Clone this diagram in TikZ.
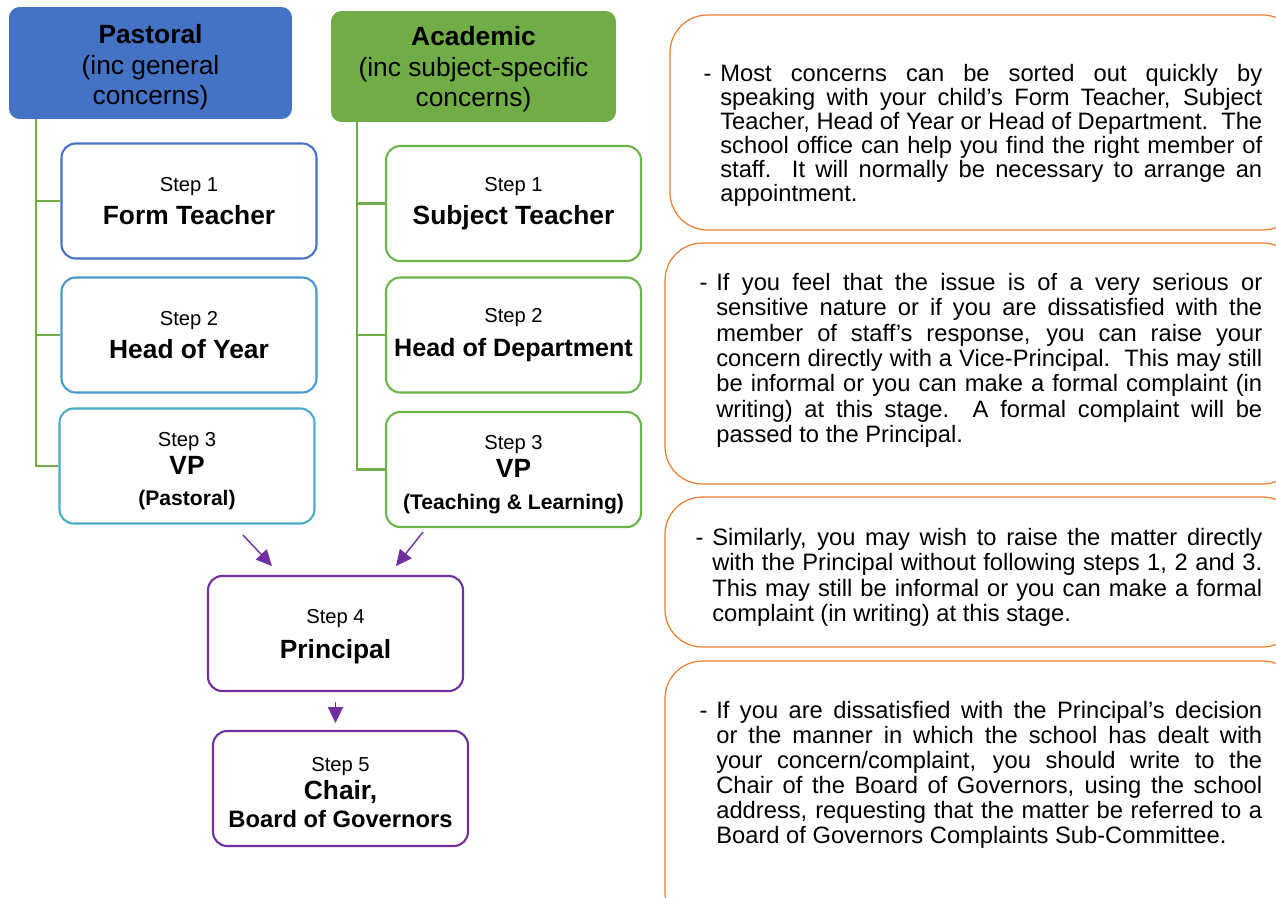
\documentclass[tikz,border=0pt]{standalone}
\usepackage{fontspec}
\setmainfont{Liberation Sans}
\usetikzlibrary{arrows.meta}

\definecolor{pastblue}{HTML}{4472C4}
\definecolor{acadgreen}{HTML}{70AD47}
\definecolor{yearblue}{HTML}{4A98CE}
\definecolor{vpcyan}{HTML}{4BACC6}
\definecolor{stepgreen}{HTML}{6AB44C}
\definecolor{boardpurple}{HTML}{7030A0}
\definecolor{noteorange}{HTML}{ED7D31}

\newcommand{\stepno}[1]{{\fontsize{11.5}{14}\selectfont #1}}
\newcommand{\stepname}[1]{{\fontsize{15}{18}\selectfont\bfseries #1}}
\newcommand{\stepsub}[1]{{\fontsize{12}{14}\selectfont\bfseries #1}}

\begin{document}
\begin{tikzpicture}[x=0.02cm, y=-0.02cm,
    header/.style={rounded corners=6pt, align=center, inner sep=0pt,
        font=\fontsize{15}{17.4}\selectfont},
    stepbox/.style={draw, line width=1.2pt, rounded corners=8pt, fill=white,
        align=center, inner sep=0pt, minimum width=5.1cm, minimum height=2.3cm,
        font=\fontsize{11.5}{15}\selectfont},
    branch/.style={acadgreen, line width=1.2pt},
    flow/.style={boardpurple, line width=0.8pt, -{Triangle[length=9pt, width=8.5pt]}},
    notebox/.style={noteorange, line width=0.7pt, rounded corners=0.75cm},
    note/.style={anchor=north west, inner sep=0pt, align=justify}]

    % page frame
    \clip (0,0) rectangle (1276,897);

    % Pastoral column
    \node[header, fill=pastblue, minimum width=5.66cm, minimum height=2.24cm] (pastoral) at (150.5,63)
        {\rule{0pt}{16pt}\textbf{Pastoral}\\(inc general\\concerns)};
    \node[stepbox, draw=pastblue] (form) at (189,201)
        {\stepno{Step 1}\\[4pt]\stepname{Form Teacher}};
    \node[stepbox, draw=yearblue] (year) at (189,335)
        {\stepno{Step 2}\\[4pt]\stepname{Head of Year}};
    \node[stepbox, draw=vpcyan] (pvp) at (187,466)
        {\rule{0pt}{14pt}\stepno{Step 3}\\[1pt]\stepname{VP}\\[3pt]\stepsub{(Pastoral)}};

    % Academic column
    \node[header, fill=acadgreen, minimum width=5.7cm, minimum height=2.22cm] (academic) at (473.5,66.5)
        {\rule{0pt}{14pt}\textbf{Academic}\\(inc subject-specific\\concerns)};
    \node[stepbox, draw=stepgreen] (subject) at (513.5,203.5)
        {\stepno{Step 1}\\[4pt]\stepname{Subject Teacher}};
    \node[stepbox, draw=stepgreen] (dept) at (513.5,335)
        {\stepno{Step 2}\\[4pt]{\fontsize{14.3}{18}\selectfont\bfseries Head of Department}};
    \node[stepbox, draw=stepgreen] (avp) at (513.5,469.5)
        {\rule{0pt}{14pt}\stepno{Step 3}\\[1pt]\stepname{VP}\\[3pt]\stepsub{(Teaching \& Learning)}};

    % tree lines
    \draw[branch] ([xshift=0.54cm]pastoral.south west) |- (form.west);
    \draw[branch] ([xshift=0.54cm]pastoral.south west) |- (year.west);
    \draw[branch] ([xshift=0.54cm]pastoral.south west) |- (pvp.west);
    \draw[branch] ([xshift=0.52cm]academic.south west) |- (subject.west);
    \draw[branch] ([xshift=0.52cm]academic.south west) |- (dept.west);
    \draw[branch] ([xshift=0.52cm]academic.south west) |- (avp.west);

    % Principal and Chair
    \node[stepbox, draw=boardpurple] (principal) at (335.5,633.5)
        {\rule{0pt}{12pt}\stepno{Step 4}\\[5pt]\stepname{Principal}};
    \node[stepbox, draw=boardpurple] (chair) at (340.5,788.5)
        {\rule{0pt}{13pt}\stepno{Step 5}\\[1pt]\stepname{Chair,}\\[1pt]{\fontsize{13.5}{15}\selectfont\bfseries Board of Governors}};

    \coordinate (pvpout) at (243,535);
    \coordinate (pvpin) at (272,566);
    \coordinate (avpout) at (423,532);
    \coordinate (avpin) at (396,566);
    \coordinate (principalout) at (335.5,702);
    \coordinate (chairin) at (335.5,723);
    \draw[flow] (pvpout) -- (pvpin);
    \draw[flow] (avpout) -- (avpin);
    \draw[flow] (principalout) -- (chairin);

    % notes on the right
    \draw[notebox] (670,15) rectangle (1300,230);
    \draw[notebox] (665,243) rectangle (1300,484);
    \draw[notebox] (665,497) rectangle (1300,647);
    \draw[notebox] (665,661) rectangle (1300,930);

    \node[note, text width=10.84cm, font=\fontsize{13.5}{13.7}\selectfont] (note1) at (720,64)
        {\noindent\llap{-\hspace{5pt}}Most concerns can be sorted out quickly by\linebreak
        speaking with your child’s Form Teacher, Subject\linebreak
        Teacher, Head of Year or Head of Department.\ \ The\linebreak
        school office can help you find the right member of\linebreak
        staff.\ \ It will normally be necessary to arrange an\linebreak
        appointment.};
    \node[note, text width=10.92cm, font=\fontsize{13.5}{14.4}\selectfont] (note2) at (716,273)
        {\noindent\llap{-\hspace{5pt}}If you feel that the issue is of a very serious or\linebreak
        sensitive nature or if you are dissatisfied with the\linebreak
        member of staff’s response, you can raise your\linebreak
        concern directly with a Vice-Principal.\ \ This may still\linebreak
        be informal or you can make a formal complaint (in\linebreak
        writing) at this stage.\ \ A formal complaint will be\linebreak
        passed to the Principal.};
    \node[note, text width=11cm, font=\fontsize{13.5}{14.4}\selectfont] (note3) at (712,528)
        {\noindent\llap{-\hspace{5pt}}Similarly, you may wish to raise the matter directly\linebreak
        with the Principal without following steps 1, 2 and 3.\linebreak
        This may still be informal or you can make a formal\linebreak
        complaint (in writing) at this stage.};
    \node[note, text width=10.92cm, font=\fontsize{13.5}{14.2}\selectfont] (note4) at (716,701)
        {\noindent\llap{-\hspace{5pt}}If you are dissatisfied with the Principal’s decision\linebreak
        or the manner in which the school has dealt with\linebreak
        your concern/complaint, you should write to the\linebreak
        Chair of the Board of Governors, using the school\linebreak
        address, requesting that the matter be referred to a\linebreak
        Board of Governors Complaints Sub-Committee.};
\end{tikzpicture}
\end{document}
